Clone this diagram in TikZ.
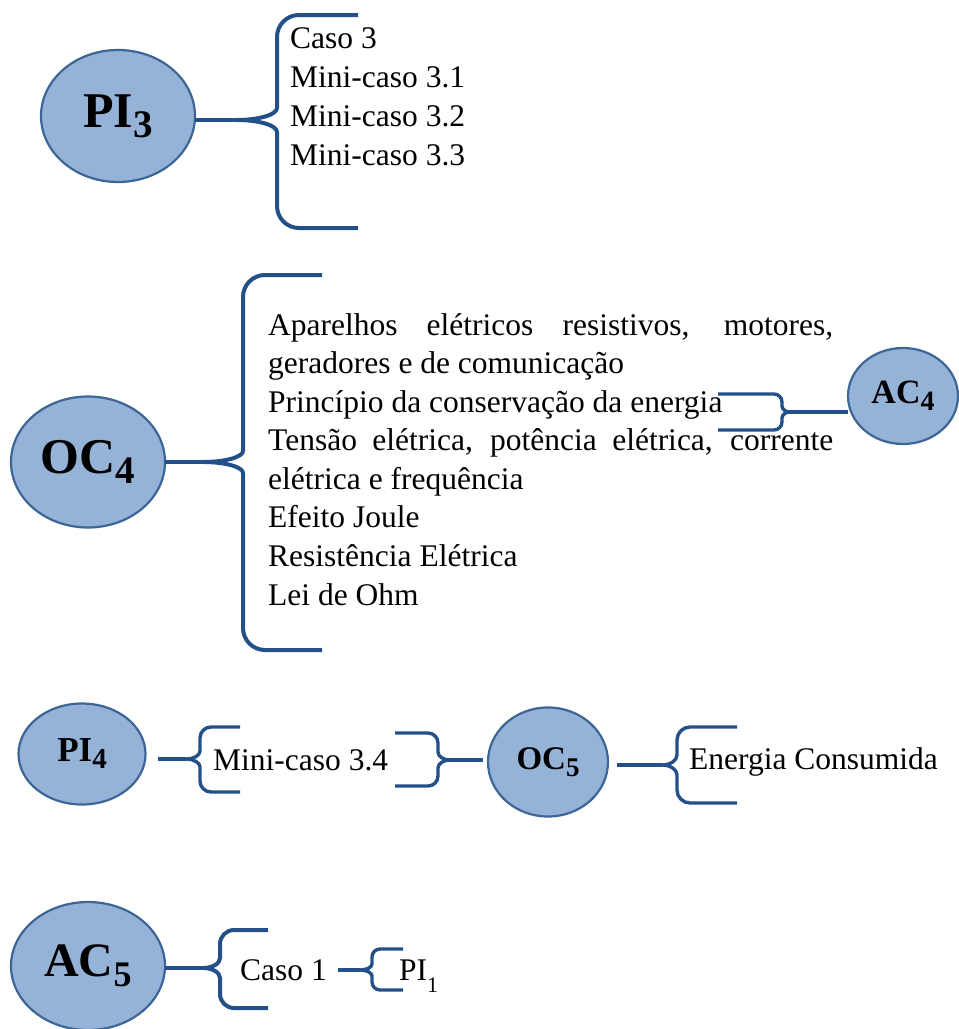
\documentclass[tikz,border=0pt]{standalone}
\usepackage{fontspec}
\setmainfont{Liberation Serif}
\usetikzlibrary{shapes.geometric}

\definecolor{bubblefill}{HTML}{95B3D7}
\definecolor{bubbleline}{HTML}{3D6596}
\definecolor{bracecol}{HTML}{24508A}

\tikzset{
  bubble/.style={ellipse, draw=bubbleline, line width=2.2pt, fill=bubblefill,
                 inner sep=0pt, outer sep=0pt},
  curlyline/.style={draw=bracecol, line width=4pt, line join=round},
  thincurly/.style={curlyline, line width=3.4pt},
  stemline/.style={draw=bracecol, line width=4pt},
  item/.style={anchor=base west, inner sep=0pt,
               font=\fontsize{31.5pt}{38pt}\selectfont},
}

% bold bubble label with a lowered index: #1 text, #2 index, #3 size, #4 index size
\newcommand\bublab[4]{\fontsize{#3pt}{#3pt}\selectfont\bfseries
  #1\raisebox{-0.2em}{\fontsize{#4pt}{#4pt}\selectfont #2}}

% curly bracket: #1 spine x, #2 top y, #3 bottom y, #4 tip y, #5 end x,
% #6 tip x, #7 corner radius, #8 half height of the tip curves, #9 style
\newcommand\curly[9]{%
  \draw[#9] (#5,#2) -- ({#1+#7*sign(#5-#1)},#2)
    .. controls ({#1+0.448*#7*sign(#5-#1)},#2) and (#1,{#2+0.448*#7}) .. (#1,{#2+#7})
    -- (#1,{#4-#8})
    .. controls (#1,{#4-0.448*#8}) and ({#6+0.552*(#1-#6)},#4) .. (#6,#4)
    .. controls ({#6+0.552*(#1-#6)},#4) and (#1,{#4+0.448*#8}) .. (#1,{#4+#8})
    -- (#1,{#3-#7})
    .. controls (#1,{#3-0.448*#7}) and ({#1+0.448*#7*sign(#5-#1)},#3) .. ({#1+#7*sign(#5-#1)},#3)
    -- (#5,#3);
}

\begin{document}
\begin{tikzpicture}[x=1pt, y=-1pt]
\useasboundingbox (0,0) rectangle (959,1029);

% ---------- PI3 ----------
\node[bubble, minimum width=154pt, minimum height=132pt] (pi3) at (118,116) {\bublab{PI}{3}{50}{39}};
\coordinate (pi3c) at (237,120);
\curly{277}{15}{228}{120}{358}{237}{22}{12}{curlyline}
\draw[stemline] (pi3.east |- pi3c) -- (pi3c);
\node[item] (t31) at (290,48) {Caso 3};
\node[item] (t32) at (290,87) {Mini-caso 3.1};
\node[item] (t33) at (290,126) {Mini-caso 3.2};
\node[item] (t34) at (290,165) {Mini-caso 3.3};

% ---------- OC4 ----------
\node[bubble, minimum width=154pt, minimum height=131pt] (oc4) at (88,462) {\bublab{OC}{4}{50}{39}};
\coordinate (oc4c) at (203,462);
\curly{243}{275}{650}{462}{322}{203}{22}{11}{curlyline}
\draw[stemline] (oc4.east |- oc4c) -- (oc4c);
\node[item] (l1) at (268,335) {\makebox[565pt][s]{Aparelhos elétricos resistivos, motores,}};
\node[item] (l2) at (268,373.6) {geradores e de comunicação};
\node[item] (l3) at (268,412.1) {Princípio da conservação da energia};
\node[item] (l4) at (268,450.7) {\makebox[565pt][s]{Tensão elétrica, potência elétrica, corrente}};
\node[item] (l5) at (268,489.3) {elétrica e frequência};
\node[item] (l6) at (268,527.9) {Efeito Joule};
\node[item] (l7) at (268,566.4) {Resistência Elétrica};
\node[item] (l8) at (268,605) {Lei de Ohm};

% ---------- AC4 ----------
\node[bubble, minimum width=110pt, minimum height=96pt] (ac4) at (903,396) {\bublab{AC}{4}{34}{28}};
\coordinate (ac4c) at (790,412);
\curly{782}{394}{430}{412}{718}{790}{8}{6}{thincurly}
\draw[stemline, line width=3.6pt] (ac4c) -- (ac4.west |- ac4c);

% ---------- PI4 / OC5 ----------
\node[bubble, minimum width=127pt, minimum height=101pt] (pi4) at (82,754) {\bublab{PI}{4}{35}{29}};
\coordinate (pi4c) at (186,759);
\curly{200}{727}{792}{759}{240}{186}{11}{8}{thincurly}
\draw[stemline, shorten <=12pt] (pi4.east |- pi4c) -- (pi4c);
\node[item] (mc4) at (213,770) {Mini-caso 3.4};

\node[bubble, minimum width=120pt, minimum height=109pt] (oc5) at (548,762) {\bublab{OC}{5}{33}{27}};
\coordinate (mc4c) at (450,760);
\curly{438}{733}{786}{760}{395}{450}{10}{8}{thincurly}
\draw[stemline, shorten >=5pt] (mc4c) -- (oc5.west |- mc4c);

\coordinate (oc5c) at (662,765);
\curly{677}{727}{803}{765}{737}{662}{13}{10}{thincurly}
\draw[stemline, shorten <=9pt] (oc5.east |- oc5c) -- (oc5c);
\node[item] (ec) at (689,769) {Energia Consumida};

% ---------- AC5 ----------
\node[bubble, minimum width=154pt, minimum height=128pt] (ac5) at (88,966) {\bublab{AC}{5}{48}{36}};
\coordinate (ac5c) at (203,968);
\curly{220}{930}{1008}{968}{268}{203}{14}{10}{curlyline}
\draw[stemline] (ac5.east |- ac5c) -- (ac5c);
\node[item] (caso1) at (240,980) {Caso 1};
\coordinate (cs1c) at (360,970);
\curly{372}{949}{990}{970}{403}{360}{8}{6}{thincurly}
\draw[stemline, shorten <=11pt] (caso1.east |- cs1c) -- (cs1c);
\node[item] (pi1) at (399,980) {PI\raisebox{-0.4em}{\fontsize{22pt}{22pt}\selectfont 1}};

\end{tikzpicture}
\end{document}
